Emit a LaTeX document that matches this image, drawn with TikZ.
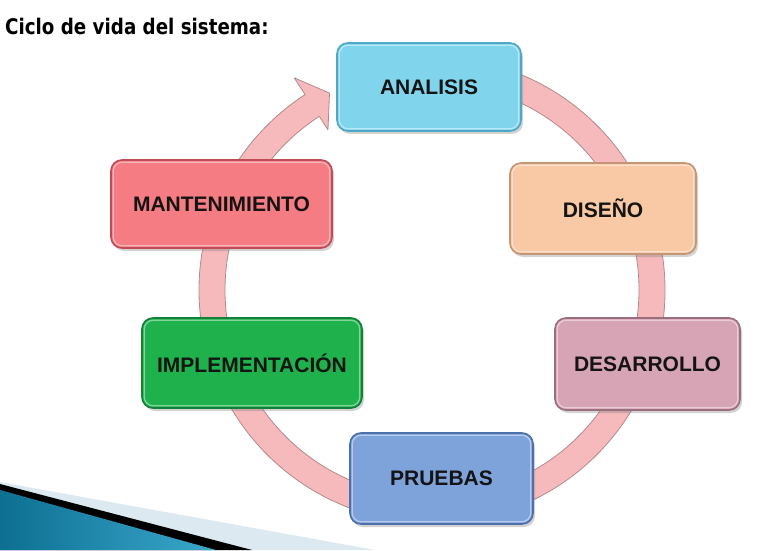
\documentclass[tikz,border=0pt]{standalone}
\usepackage{fontspec}
\setmainfont{Liberation Sans}
\newfontfamily\titlefont[FakeStretch=0.85]{DejaVu Sans}
\usetikzlibrary{shadows}
\definecolor{ringfill}{HTML}{F6B9BC}
\definecolor{ringline}{HTML}{B38A8C}
\definecolor{cA}{HTML}{80D4EC}\definecolor{bA}{HTML}{4FA6C6}
\definecolor{cB}{HTML}{F9C8A4}\definecolor{bB}{HTML}{C49676}
\definecolor{cC}{HTML}{D6A4B4}\definecolor{bC}{HTML}{9B6E7E}
\definecolor{cD}{HTML}{7EA2DA}\definecolor{bD}{HTML}{4D70A8}
\definecolor{cE}{HTML}{1FB24C}\definecolor{bE}{HTML}{14803A}
\definecolor{cF}{HTML}{F47C82}\definecolor{bF}{HTML}{C04B54}
\definecolor{swteal}{HTML}{3AA8CC}
\definecolor{swdark}{HTML}{0D6F92}
\definecolor{swpale}{HTML}{DCE9F0}
\tikzset{
  phase/.style={rounded corners=11pt, line width=1.6pt, minimum height=#1,
    font=\bfseries\fontsize{21}{24}\selectfont, text=black!92,
    drop shadow={opacity=0.35, shadow xshift=2pt, shadow yshift=-3pt}},
  hl/.style={draw=white, opacity=0.45, line width=1.2pt, rounded corners=9pt}
}
\begin{document}
\begin{tikzpicture}[x=1pt,y=1pt]
\useasboundingbox (0,0) rectangle (757,550);
% swoosh bottom-left
\fill[swpale] (0,68) -- (375,0) -- (0,0) -- cycle;
\fill[black] (0,66) -- (252,0) -- (0,0) -- cycle;
\shade[left color=swdark, right color=swteal] (0,60) -- (216,0) -- (0,0) -- cycle;
% title
\node[anchor=base west, inner sep=0pt, font=\titlefont\bfseries\fontsize{21.5}{24}\selectfont] (title) at (5,515) {Ciclo de vida del sistema:};
% ring with arrow head
\begin{scope}[shift={(432,260)}]
\filldraw[fill=ringfill, draw=ringline, line width=0.8pt, line join=round]
  (100:233) arc[start angle=100, end angle=-237, radius=233]
  -- (-237:253) -- (-242.5:222) -- (-237:191) -- (-237:207)
  arc[start angle=-237, end angle=100, radius=207] -- cycle;
\end{scope}
% boxes
\node[phase=88pt, minimum width=184pt, fill=cA, draw=bA] (analisis) at (429,463) {ANALISIS};
\node[phase=91pt, minimum width=186pt, fill=cB, draw=bB] (diseno) at (603,341.5) {DISEÑO};
\node[phase=92pt, minimum width=185pt, fill=cC, draw=bC] (desarrollo) at (647.5,186) {DESARROLLO};
\node[phase=91pt, minimum width=183pt, fill=cD, draw=bD] (pruebas) at (441.5,71.5) {PRUEBAS};
\node[phase=90pt, minimum width=220pt, fill=cE, draw=bE] (implementacion) at (252,187) {IMPLEMENTACIÓN};
\node[phase=88pt, minimum width=221pt, fill=cF, draw=bF] (mantenimiento) at (221.5,346) {MANTENIMIENTO};
% subtle inner highlights
\foreach \n in {analisis,diseno,desarrollo,pruebas,implementacion,mantenimiento}{
  \draw[hl] ([shift={(3pt,3pt)}]\n.south west) rectangle ([shift={(-3pt,-3pt)}]\n.north east);
}
\end{tikzpicture}
\end{document}
